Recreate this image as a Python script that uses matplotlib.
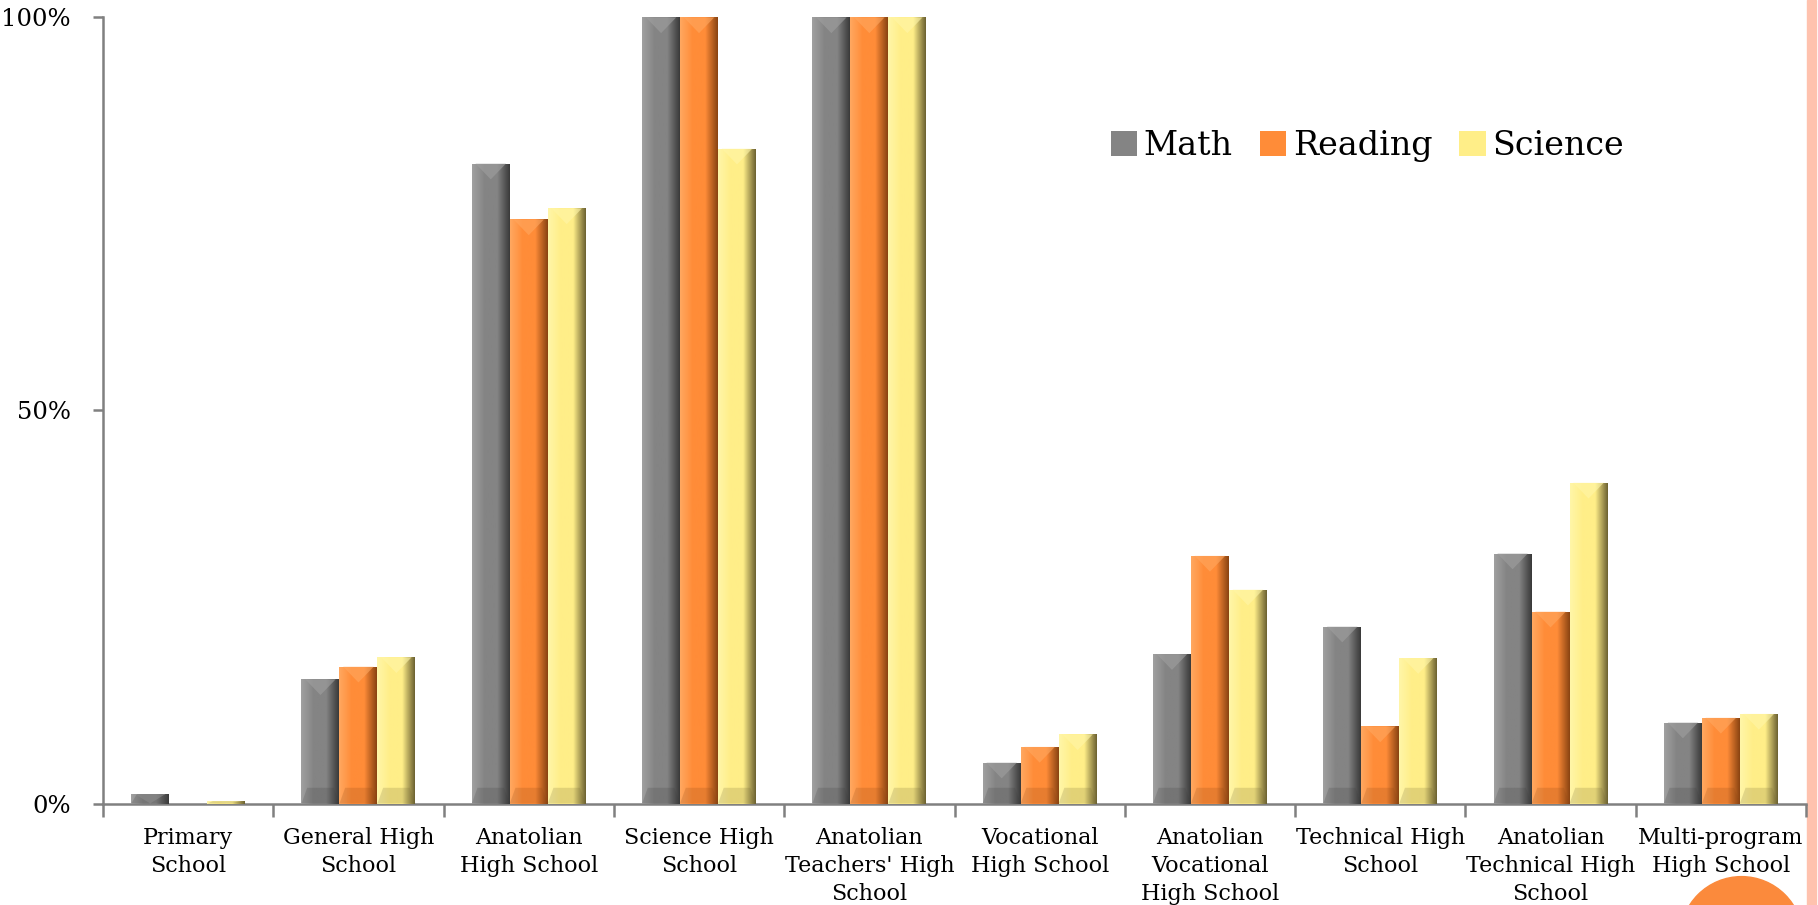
import numpy as np
import matplotlib
matplotlib.use("Agg")
import matplotlib.pyplot as plt
from matplotlib.colors import LinearSegmentedColormap
from matplotlib.patches import Rectangle, Ellipse, Polygon

categories = ["Primary\nSchool", "General High\nSchool", "Anatolian\nHigh School",
              "Science High\nSchool", "Anatolian\nTeachers' High\nSchool",
              "Vocational\nHigh School", "Anatolian\nVocational\nHigh School",
              "Technical High\nSchool", "Anatolian\nTechnical High\nSchool",
              "Multi-program\nHigh School"]
math = [1.2, 15.8, 81.4, 100, 100, 5.2, 19.0, 22.5, 31.8, 10.3]
reading = [0.0, 17.4, 74.3, 100, 100, 7.2, 31.5, 9.8, 24.4, 10.9]
science = [0.3, 18.6, 75.7, 83.3, 100, 8.8, 27.2, 18.5, 40.8, 11.4]
series = ["Math", "Reading", "Science"]
yticks = [0, 50, 100]
ytick_labels = ["0%", "50%", "100%"]

# light / mid / dark tone per series for the bevel look
tones = {
    "Math": ("#a0a0a0", "#848484", "#3a3a3a"),
    "Reading": ("#ffa860", "#ff8c38", "#8a4412"),
    "Science": ("#fff6a8", "#ffee88", "#6e6332"),
}

plt.rcParams['font.family'] = ['DejaVu Serif']

W, H = 1818, 905
fig = plt.figure(figsize=(W / 100, H / 100), dpi=100)
ax = fig.add_axes([103 / W, 1 - 803.5 / H, (1806 - 103) / W, (803.5 - 17.4) / H])

x = np.arange(len(categories))
bw = 0.223
cap = 2.0  # bevel cap height in data units
data = [math, reading, science]
for i, (name, vals) in enumerate(zip(series, data)):
    light, mid, dark = tones[name]
    bars = ax.bar(x + (i - 1) * bw, vals, bw, color=mid, label=name, zorder=2)
    cmap = LinearSegmentedColormap.from_list(name, [light, mid, mid, dark])
    grad = np.linspace(0, 1, 64).reshape(1, -1)
    for b in bars:
        h = b.get_height()
        if h <= 0:
            continue
        x0 = b.get_x()
        w = b.get_width()
        ax.imshow(grad, cmap=cmap, aspect='auto', zorder=3,
                  extent=(x0, x0 + w, 0, h), interpolation='bilinear')
        c = min(cap, h)
        # light triangle on top of the bar
        ax.add_patch(Polygon([(x0 + 0.1 * w, h), (x0 + 0.9 * w, h), (x0 + 0.5 * w, h - c)],
                             closed=True, color=light, alpha=0.6, lw=0, zorder=4))
        # darker band at the bottom
        ax.add_patch(Polygon([(x0, 0), (x0 + w, 0), (x0 + 0.85 * w, min(c, h)),
                              (x0 + 0.15 * w, min(c, h))],
                             closed=True, color=dark, alpha=0.2, lw=0, zorder=4))

ax.set_xlim(-0.5, len(categories) - 0.5)
ax.set_ylim(0, 100)

ax.set_yticks(yticks)
ax.set_yticklabels(ytick_labels, fontsize=17.5)
ax.set_xticks(np.arange(len(categories) + 1) - 0.5)
ax.set_xticklabels([])
ax.set_xticks(x, minor=True)
ax.set_xticklabels(categories, minor=True, fontsize=16, linespacing=1.36)
ax.tick_params(axis='x', which='minor', length=0, pad=17)
ax.tick_params(axis='x', which='major', length=9, width=1.8, color='#808080', direction='out')
ax.tick_params(axis='y', length=7, width=1.8, color='#808080', pad=16)

for s in ['top', 'right']:
    ax.spines[s].set_visible(False)
for s in ['left', 'bottom']:
    ax.spines[s].set_color('#808080')
    ax.spines[s].set_linewidth(1.8)

leg = ax.legend(loc='upper left', bbox_to_anchor=(0.574, 0.895), ncol=3, frameon=False,
                fontsize=24, handlelength=0.8, handleheight=0.8, handletextpad=0.2,
                columnspacing=0.8)

# decorative strip on the right edge and orange circle at the bottom
fig.add_artist(Rectangle((1807 / W, 0), 9 / W, 1, transform=fig.transFigure,
                         color='#ffc2ae', zorder=0))
fig.add_artist(Ellipse((1741.5 / W, 1 - 938 / H), 2 * 61.4 / W, 2 * 61.4 / H,
                       transform=fig.transFigure, color='#fb8a3c', zorder=5))

fig.savefig("out.png", dpi=100)
